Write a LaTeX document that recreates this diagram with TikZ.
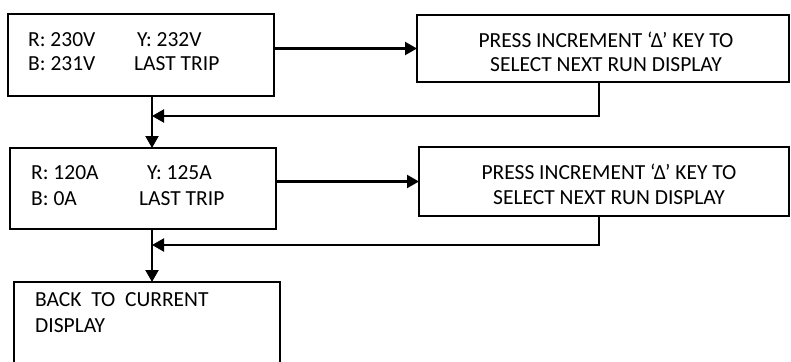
\documentclass[tikz,border=0pt]{standalone}
\usepackage{fontspec}
\setmainfont{Carlito}
\usetikzlibrary{arrows.meta}
\begin{document}
\begin{tikzpicture}[x=1pt,y=-1pt,
  box/.style={draw,line width=2.2pt,rectangle,inner sep=0pt,outer sep=0pt,anchor=north west},
  lbl/.style={inner sep=0pt,anchor=west,font=\fontsize{21.5}{25}\selectfont},
  clbl/.style={inner sep=0pt,anchor=center,font=\fontsize{21.5}{25}\selectfont},
  arr/.style={line width=2.2pt,-{Triangle[length=12pt,width=13pt]}}]
\useasboundingbox (0,0) rectangle (791,361);
% boxes
\node[box,minimum width=266pt,minimum height=82pt] (b1) at (8,14) {};
\node[box,minimum width=372pt,minimum height=67pt] (b2) at (417,15) {};
\node[box,minimum width=266pt,minimum height=81pt] (b3) at (10,148) {};
\node[box,minimum width=370pt,minimum height=69pt] (b4) at (419,147) {};
\node[box,minimum width=266pt,minimum height=84pt] (b5) at (14,282) {};
% texts
\node[lbl] (t1a) at (28,39.5) {R: 230V};
\node[lbl] (t1b) at (137,39.5) {Y: 232V};
\node[lbl] (t1c) at (28,64) {B: 231V};
\node[lbl] (t1d) at (134,64) {LAST TRIP};
\node[clbl] (t2a) at (606,40) {PRESS INCREMENT ‘Δ’ KEY TO};
\node[clbl] (t2b) at (606,65) {SELECT NEXT RUN DISPLAY};
\node[lbl] (t3a) at (31,173) {R: 120A};
\node[lbl] (t3b) at (147,173) {Y: 125A};
\node[lbl] (t3c) at (31,198.5) {B: 0A};
\node[lbl] (t3d) at (139,198.5) {LAST TRIP};
\node[clbl] (t4a) at (609,172) {PRESS INCREMENT ‘Δ’ KEY TO};
\node[clbl] (t4b) at (609,197.5) {SELECT NEXT RUN DISPLAY};
\node[lbl] (t5a) at (35,300) {BACK\ \ TO\ \ CURRENT};
\node[lbl] (t5b) at (35,326) {DISPLAY};
% junction points
\coordinate (j1) at (152,116);
\coordinate (j2) at (152,245);
% connectors
\draw[arr] (b2.west -| b1.east) -- (b2.west);
\draw[arr] (b4.west -| b3.east) -- (b4.west);
\draw[arr] ([xshift=-4pt]b2.south) |- (j1);
\draw[arr] ([xshift=-5pt]b4.south) |- (j2);
\draw[arr] (b1.south -| j1) -- (b3.north -| j1);
\draw[arr] (b3.south -| j2) -- (b5.north -| j2);
\end{tikzpicture}
\end{document}
